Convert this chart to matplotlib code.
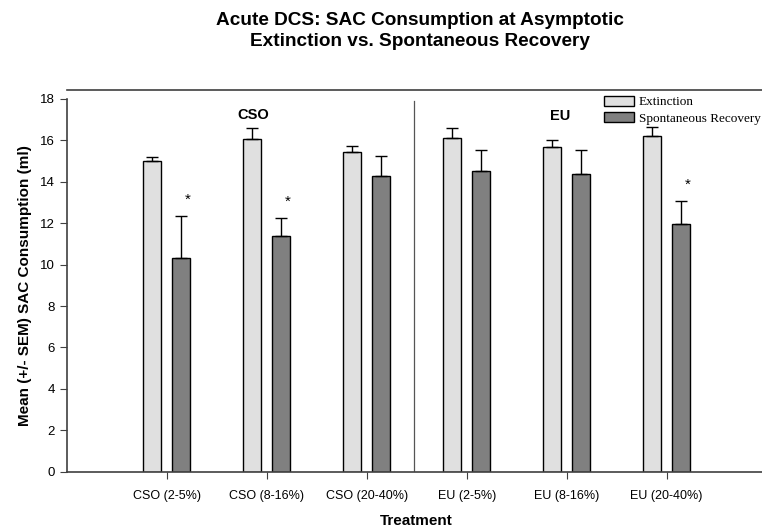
import matplotlib.pyplot as plt
import numpy as np
from matplotlib.patches import Patch

# Define data.
treatments = ['CSO (2-5%)', 'CSO (8-16%)', 'CSO (20-40%)',
              'EU (2-5%)', 'EU (8-16%)', 'EU (20-40%)']
extinction = [15.0, 16.05, 15.45, 16.1, 15.7, 16.2]
extinction_sem = [0.2, 0.55, 0.3, 0.52, 0.33, 0.44]
recovery = [10.33, 11.37, 14.29, 14.52, 14.38, 11.98]
recovery_sem = [2.0, 0.87, 0.96, 1.03, 1.18, 1.07]
significant = [True, True, False, False, False, True]

plt.rcParams['font.family'] = ['Liberation Sans', 'DejaVu Sans']

fig = plt.figure(figsize=(7.62, 5.31), dpi=100)
ax = fig.add_axes([0.0875, 0.1117, 0.9186, 0.7019])

x = np.arange(1, len(treatments) + 1)
width = 0.18
off = 0.145

ax.bar(x - off, extinction, width, color='#e0e0e0', edgecolor='black', linewidth=1)
ax.bar(x + off, recovery, width, color='#808080', edgecolor='black', linewidth=1)

# Upper error bars only.
ax.errorbar(x - off, extinction, yerr=[np.zeros(len(x)), extinction_sem],
            fmt='none', ecolor='black', elinewidth=1, capsize=4, capthick=1)
ax.errorbar(x + off, recovery, yerr=[np.zeros(len(x)), recovery_sem],
            fmt='none', ecolor='black', elinewidth=1, capsize=4, capthick=1)

# Significance stars.
for xi, r, s, sig in zip(x, recovery, recovery_sem, significant):
    if sig:
        ax.text(xi + off + 0.07, r + s + 0.45, '*', ha='center', va='bottom',
                fontsize=11)

# Group divider and labels.
ax.plot([3.47, 3.47], [0, 17.9], color='#555555', linewidth=0.9)
ax.text(1.87, 17.25, 'CSO', ha='center', va='center', fontsize=10.5, fontweight='bold')
ax.text(4.93, 17.2, 'EU', ha='center', va='center', fontsize=10.5, fontweight='bold')

ax.set_xlim(0, 7)
ax.set_ylim(0, 18)
ax.set_xticks(x)
ax.set_xticklabels(treatments, fontsize=9)
ax.set_yticks(range(0, 19, 2))
ax.tick_params(axis='y', labelsize=9.5, length=5, direction='out', color='#404040')
ax.tick_params(axis='x', length=5, direction='out', pad=8, color='#404040')

for side in ['top', 'right']:
    ax.spines[side].set_visible(False)
for side in ['left', 'bottom']:
    ax.spines[side].set_color('#404040')
    ax.spines[side].set_linewidth(1.2)

# Frame line above the plot.
ax.plot([0, 1.1], [1.0235, 1.0235], transform=ax.transAxes, color='#404040',
        linewidth=1.2, clip_on=False)

ax.set_xlabel('Treatment', fontsize=11, fontweight='bold', labelpad=9)
ax.set_ylabel('Mean (+/- SEM) SAC Consumption (ml)', fontsize=11, fontweight='bold',
              labelpad=6)

fig.suptitle('Acute DCS: SAC Consumption at Asymptotic\nExtinction vs. Spontaneous Recovery',
             x=0.551, y=0.978, fontsize=13.7, fontweight='bold', linespacing=1.3)

handles = [Patch(facecolor='#e0e0e0', edgecolor='black', label='Extinction'),
           Patch(facecolor='#808080', edgecolor='black', label='Spontaneous Recovery')]
fig.legend(handles=handles, loc='upper left', bbox_to_anchor=(0.784, 0.832),
           frameon=False, borderpad=0, handlelength=2.3, handleheight=0.8,
           labelspacing=0.3, handletextpad=0.35,
           prop={'family': 'Liberation Serif', 'size': 9.5})

plt.savefig('out.png', dpi=100)
